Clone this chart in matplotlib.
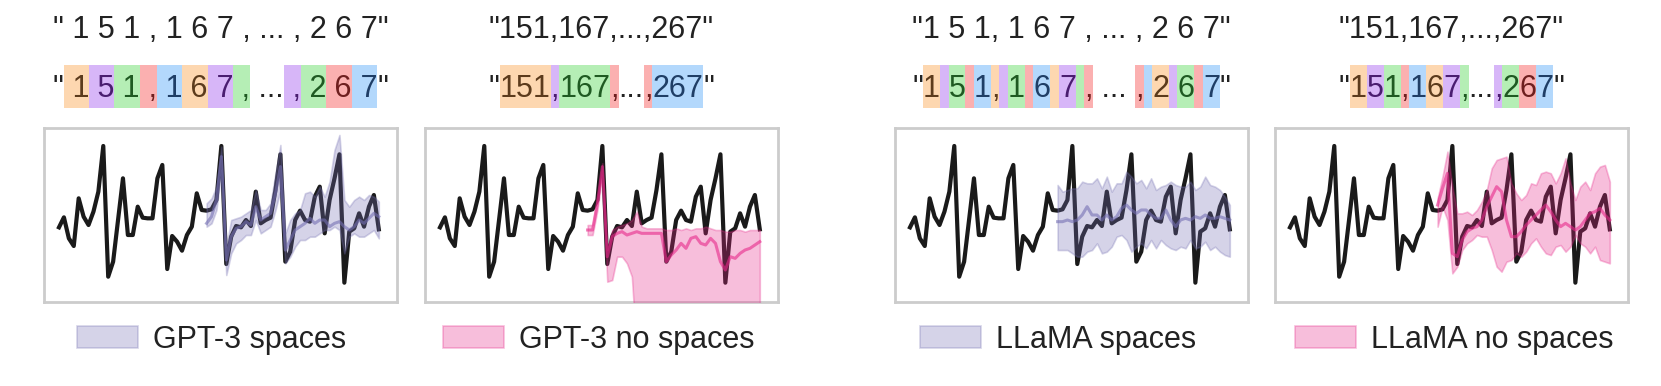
import matplotlib
matplotlib.use("Agg")
import matplotlib.pyplot as plt
from matplotlib.patches import Rectangle
from matplotlib.font_manager import FontProperties
import numpy as np

# ---------------- data ----------------
history = [17.8, 20.8, 14.5, 12.2, 26.5, 21.0, 18.5, 22.5, 28.5, 42.2,
           3.0, 7.5, 20.0, 32.5, 15.5, 15.5, 24.0, 20.7, 20.5, 20.5,
           32.5, 36.5, 5.3, 15.2, 13.5, 10.8, 15.5, 18.0, 28.0, 23.0,
           22.8, 23.2, 26.0, 42.2, 6.8, 15.0, 18.2, 17.8, 20.0, 18.2,
           28.5, 19.0, 20.0, 20.7, 29.0, 39.7, 7.5, 10.5, 20.0, 22.8,
           20.0, 19.5, 27.0, 30.0, 16.0, 26.0, 32.5, 39.7, 1.2, 16.5,
           17.5, 22.0, 18.0, 24.0, 27.5, 17.2]
forecast_start = 30

gpt3_sp_median = [19.0, 21.0, 26.0, 39.0, 8.0, 15.0, 17.5, 18.0, 19.5, 18.5, 24.0, 20.0,
                  21.0, 22.0, 28.0, 36.0, 11.0, 14.0, 17.0, 18.0, 19.0, 20.5, 19.0, 20.0,
                  20.0, 18.0, 19.0, 19.5, 18.0, 17.0, 18.0, 20.0, 19.0, 20.5, 22.0, 21.0]
gpt3_sp_upper = [25.0, 26.5, 30.0, 42.0, 12.0, 20.0, 20.5, 21.0, 22.0, 23.0, 29.0, 23.0,
                 23.0, 25.0, 34.0, 42.5, 16.0, 20.0, 22.0, 23.0, 28.0, 28.5, 27.0, 30.0,
                 27.0, 31.5, 41.0, 45.5, 26.0, 24.0, 26.0, 27.0, 26.0, 27.5, 27.0, 25.5]
gpt3_sp_lower = [18.0, 19.0, 23.0, 35.0, 3.5, 10.0, 13.0, 14.0, 15.5, 15.5, 20.0, 16.0,
                 17.0, 18.0, 23.0, 29.0, 7.0, 9.0, 12.0, 14.0, 14.0, 15.0, 15.0, 16.0,
                 17.0, 17.0, 18.0, 17.0, 10.0, 15.0, 16.0, 15.0, 15.0, 16.0, 17.0, 14.5]

gpt3_nosp_median = [17.0, 17.0, 25.0, 36.0, 9.0, 15.0, 16.0, 16.5, 15.5, 16.0, 16.5, 16.0,
                    16.0, 16.0, 16.0, 16.0, 7.5, 9.5, 11.0, 13.0, 11.5, 14.5, 15.0, 13.0,
                    12.5, 14.5, 13.0, 7.5, 5.0, 9.0, 8.5, 10.0, 11.0, 11.5, 12.5, 13.5]
gpt3_nosp_upper = [18.5, 18.5, 27.0, 37.0, 11.0, 17.0, 18.0, 18.5, 19.0, 20.0, 22.5, 18.0,
                   17.5, 17.5, 17.5, 17.5, 17.0, 17.0, 17.5, 17.0, 17.5, 17.0, 17.5, 17.5,
                   18.0, 17.5, 17.0, 17.0, 16.5, 16.5, 17.0, 17.0, 16.5, 17.0, 17.0, 17.0]
gpt3_nosp_lower = [15.5, 15.5, 23.0, 33.5, 1.5, 2.0, 9.0, 9.0, 7.0, 3.0, -20.0, -20.0,
                   -20.0, -20.0, -20.0, -20.0, -20.0, -20.0, -20.0, -20.0, -20.0, -20.0, -20.0, -20.0,
                   -20.0, -20.0, -20.0, -20.0, -20.0, -20.0, -20.0, -20.0, -20.0, -20.0, -20.0, -20.0]

llama_sp_median = [19.5, 19.5, 20.0, 19.5, 20.0, 21.5, 24.0, 21.5, 21.5, 20.0, 21.5, 20.0,
                   21.0, 23.5, 24.5, 23.0, 22.0, 23.0, 23.0, 21.5, 20.5, 20.5, 23.0, 20.0,
                   18.0, 20.0, 20.5, 20.0, 21.0, 20.5, 21.5, 20.5, 20.5, 21.0, 20.5, 20.0]
llama_sp_upper = [30.5, 28.5, 29.0, 29.5, 29.5, 31.5, 31.0, 31.0, 32.5, 29.5, 33.0, 28.5,
                  31.0, 31.0, 34.5, 33.0, 31.0, 32.0, 29.5, 32.5, 29.0, 30.0, 30.5, 31.5,
                  30.5, 30.0, 30.0, 31.5, 29.0, 30.0, 33.0, 30.5, 30.0, 29.0, 27.0, 24.5]
llama_sp_lower = [11.0, 11.0, 11.0, 10.0, 9.0, 9.0, 10.5, 11.0, 13.0, 10.0, 10.5, 12.0,
                  15.0, 15.5, 14.0, 10.5, 12.0, 13.0, 11.5, 14.0, 11.5, 14.0, 12.5, 11.5,
                  11.0, 12.0, 11.5, 14.0, 11.5, 12.0, 13.5, 11.0, 12.0, 10.5, 9.5, 9.0]

llama_nosp_median = [24.5, 29.5, 34.0, 10.0, 9.0, 14.0, 16.5, 17.5, 18.0, 20.0, 24.0, 27.0,
                     30.0, 28.5, 20.0, 15.0, 15.0, 16.5, 18.5, 20.0, 21.5, 23.0, 24.5, 22.5,
                     20.0, 18.0, 19.0, 18.0, 17.0, 18.0, 20.0, 22.0, 22.5, 23.5, 21.5, 20.0]
llama_nosp_upper = [26.5, 33.0, 40.5, 30.0, 22.0, 22.0, 22.5, 21.5, 23.0, 25.5, 29.0, 35.5,
                    38.0, 38.5, 39.0, 31.0, 28.0, 26.0, 27.5, 31.0, 30.5, 34.0, 34.5, 34.0,
                    31.0, 34.0, 38.5, 31.0, 26.0, 30.0, 31.5, 29.0, 34.0, 36.0, 36.5, 31.5]
llama_nosp_lower = [18.0, 24.0, 20.0, 4.0, 6.0, 11.0, 13.0, 14.0, 15.5, 15.0, 15.0, 11.0,
                    6.0, 4.5, 7.5, 8.0, 10.0, 9.0, 10.5, 13.0, 14.5, 12.0, 10.0, 9.5,
                    12.0, 12.5, 10.5, 12.0, 15.5, 13.0, 12.0, 10.0, 12.0, 8.0, 7.5, 7.0]

labels = ["GPT-3 spaces", "GPT-3 no spaces", "LLaMA spaces", "LLaMA no spaces"]

plain_strings = ['" 1 5 1 , 1 6 7 , ... , 2 6 7"',
                 '"151,167,...,267"',
                 '"1 5 1, 1 6 7 , ... , 2 6 7"',
                 '"151,167,...,267"']

# tokens: (text, colour index or None)
tokens_gpt3_sp = [('"', None), (' 1', 0), (' 5', 1), (' 1', 2), (' ,', 3), (' 1', 4),
                  (' 6', 0), (' 7', 1), (' ,', 2), (' ...', None), (' ,', 1), (' 2', 2),
                  (' 6', 3), (' 7', 4), ('"', None)]
tokens_gpt3_nosp = [('"', None), ('151', 0), (',', 1), ('167', 2), (',', 3), ('...', None),
                    (',', 3), ('267', 4), ('"', None)]
tokens_llama_sp = [('"', None), ('1', 0), (' ', 1), ('5', 2), (' ', 3), ('1', 4), (',', 0),
                   (' ', 1), ('1', 2), (' ', 3), ('6', 4), (' ', 0), ('7', 1), (' ', 2),
                   (',', 3), (' ... ', None), (',', 3), (' ', 4), ('2', 0), (' ', 1),
                   ('6', 2), (' ', 3), ('7', 4), ('"', None)]
tokens_llama_nosp = [('"', None), ('1', 0), ('5', 1), ('1', 2), (',', 3), ('1', 4), ('6', 0),
                     ('7', 1), (',', 2), ('...', None), (',', 1), ('2', 2), ('6', 3),
                     ('7', 4), ('"', None)]

# ---------------- style ----------------
W, H = 1661, 386
TEXT = '#222222'
box_colors = ['#fdd7b0', '#d7b6f8', '#b5eeb5', '#fbb0b0', '#b3d8fc']
tok_text_colors = ['#5c3b1c', '#4a1d70', '#1f5a22', '#6e1f1f', '#1f3e66']
PURPLE = '#7570b3'
PINK = '#e7298a'

plt.rcParams['font.family'] = ['Liberation Sans', 'DejaVu Sans']
fig = plt.figure(figsize=(W / 100, H / 100), dpi=100)
renderer = fig.canvas.get_renderer()
prop = FontProperties(family=['Liberation Sans', 'DejaVu Sans'], size=22)


def text_width(s):
    w1, _, _ = renderer.get_text_width_height_descent('|' + s + '|', prop, ismath=False)
    w0, _, _ = renderer.get_text_width_height_descent('||', prop, ismath=False)
    return w1 - w0


panel_left = [44, 425, 895, 1275]
panel_w = 353
panel_top, panel_bot = 128.3, 301.7
legend_left = [77, 443, 920, 1295]
row1_base = 38
row2_base = 97
box_top, box_bot = 65, 108

series = [
    (gpt3_sp_median, gpt3_sp_lower, gpt3_sp_upper, PURPLE),
    (gpt3_nosp_median, gpt3_nosp_lower, gpt3_nosp_upper, PINK),
    (llama_sp_median, llama_sp_lower, llama_sp_upper, PURPLE),
    (llama_nosp_median, llama_nosp_lower, llama_nosp_upper, PINK),
]
all_tokens = [tokens_gpt3_sp, tokens_gpt3_nosp, tokens_llama_sp, tokens_llama_nosp]

hist_x = np.arange(len(history))
fc_x = np.arange(forecast_start, forecast_start + len(gpt3_sp_median))

for k in range(4):
    cx = panel_left[k] + panel_w / 2
    # row 1: plain string
    fig.text(cx / W, 1 - row1_base / H, plain_strings[k], fontproperties=prop,
             color=TEXT, ha='center', va='baseline')
    # row 2: tokenised string
    toks = all_tokens[k]
    widths = [text_width(t) for t, _ in toks]
    x = cx - sum(widths) / 2
    for (t, c), w in zip(toks, widths):
        if c is not None:
            fig.add_artist(Rectangle((x / W, 1 - box_bot / H), w / W, (box_bot - box_top) / H,
                                     transform=fig.transFigure, facecolor=box_colors[c],
                                     edgecolor='none', zorder=1))
            col = tok_text_colors[c]
        else:
            col = TEXT
        fig.text(x / W, 1 - row2_base / H, t, fontproperties=prop, color=col,
                 ha='left', va='baseline', zorder=2)
        x += w

    # panel
    ax = fig.add_axes([panel_left[k] / W, 1 - panel_bot / H, panel_w / W,
                       (panel_bot - panel_top) / H])
    med, lo, hi, colr = series[k]
    ax.plot(hist_x, history, color='#1a1a1a', lw=3.0, zorder=2)
    poly = ax.fill_between(fc_x, lo, hi, color=colr, alpha=0.3, lw=1.2, zorder=3)
    ax.plot(fc_x, med, color=colr, alpha=0.6, lw=2.2, zorder=4)
    ax.set_xlim(-3.05, 68.7)
    ax.set_ylim(-4.5, 47.5)
    ax.set_xticks([])
    ax.set_yticks([])
    for sp in ax.spines.values():
        sp.set_color('#cccccc')
        sp.set_linewidth(2.0)

    fig.legend(handles=[poly], labels=[labels[k]], loc='center left',
               bbox_to_anchor=(legend_left[k] / W, 1 - 340 / H), frameon=False,
               fontsize=22, handlelength=2.0, handleheight=0.72, handletextpad=0.5,
               borderpad=0, borderaxespad=0, labelcolor=TEXT)

fig.savefig('out.png', dpi=100)
